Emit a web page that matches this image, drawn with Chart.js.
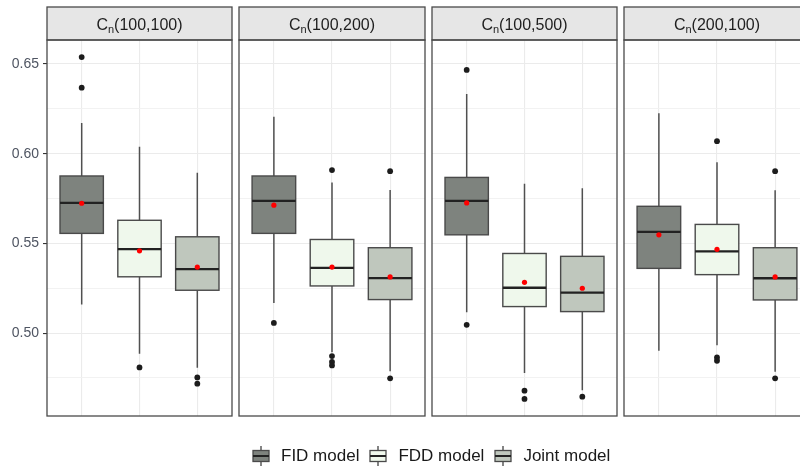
<!DOCTYPE html>
<html>
<head>
<meta charset="utf-8">
<script src="https://cdn.jsdelivr.net/npm/chart.js@4.4.1/dist/chart.umd.min.js"></script>
<style>
  html, body { margin: 0; padding: 0; background: #ffffff; }
  body { width: 800px; height: 470px; overflow: hidden; position: relative;
         font-family: "Liberation Sans", Arial, sans-serif; }
  .panel { position: absolute; top: 0; height: 420px; }
  #legend { position: absolute; left: 252px; top: 445px; height: 22px;
            display: flex; align-items: center; font-size: 17px; color: #1a1a1a; white-space: nowrap; }
  #legend canvas { display: block; margin-right: 11px; }
  #legend span { margin-right: 10px; }
</style>
</head>
<body>
<canvas id="p0" class="panel" width="236" height="420" style="left:0px;width:236px"></canvas>
<canvas id="p1" class="panel" width="194" height="420" style="left:235px;width:194px"></canvas>
<canvas id="p2" class="panel" width="193" height="420" style="left:428px;width:193px"></canvas>
<canvas id="p3" class="panel" width="194" height="420" style="left:620px;width:194px"></canvas>
<div id="legend"></div>
<script>
// Model groups, in drawing order within each facet
const models = ['FID model', 'FDD model', 'Joint model'];
const modelFills = ['#7e837e', '#eff8ec', '#bfc7bd'];

// Facet labels: C_n(p,q)
const facetArgs = ['(100,100)', '(100,200)', '(100,500)', '(200,100)'];

// Five-number summaries per facet, one value per model
const whiskerHigh = [
  [0.6172, 0.6039, 0.5894],
  [0.6206, 0.5839, 0.5798],
  [0.6333, 0.5833, 0.5807],
  [0.6226, 0.5952, 0.5796]
];
const q3 = [
  [0.5876, 0.5629, 0.5537],
  [0.5876, 0.5522, 0.5476],
  [0.5868, 0.5444, 0.5428],
  [0.5707, 0.5606, 0.5476]
];
const medians = [
  [0.5726, 0.5468, 0.5357],
  [0.5737, 0.5364, 0.5307],
  [0.5737, 0.5253, 0.5226],
  [0.5564, 0.5456, 0.5306]
];
const q1 = [
  [0.5556, 0.5314, 0.5239],
  [0.5556, 0.5263, 0.5187],
  [0.5548, 0.5148, 0.5120],
  [0.5361, 0.5326, 0.5185]
];
const whiskerLow = [
  [0.5159, 0.4885, 0.4807],
  [0.5168, 0.4894, 0.4787],
  [0.5117, 0.4778, 0.4681],
  [0.4902, 0.4933, 0.4785]
];
const means = [
  [0.5724, 0.5459, 0.5368],
  [0.5713, 0.5368, 0.5313],
  [0.5726, 0.5283, 0.5250],
  [0.5548, 0.5467, 0.5313]
];
const outliers = [
  [[0.6539, 0.6368], [0.4809], [0.4753, 0.4718]],
  [[0.5057], [0.5909, 0.4872, 0.4839, 0.4820], [0.5903, 0.4748]],
  [[0.6467, 0.5046], [0.4679, 0.4633], [0.4646]],
  [[], [0.6070, 0.4864, 0.4846], [0.5903, 0.4748]]
];

// Y axis: range and gridline values (majors labelled)
const yMin = 0.4538, yMax = 0.6634;
const yGridValues = [0.475, 0.50, 0.525, 0.55, 0.575, 0.60, 0.625, 0.65];

const FONT = '"Liberation Sans", Arial, sans-serif';
const isMajor = v => Math.abs(v * 20 - Math.round(v * 20)) < 1e-6;

// Boxes, whiskers and medians drawn with the chart's own scales
const boxplotPlugin = {
  id: 'boxplot',
  beforeDatasetsDraw(chart, args, opts) {
    const k = opts.facet;
    const { ctx, chartArea } = chart;
    const xs = chart.scales.x, ys = chart.scales.y;
    ctx.save();
    ctx.beginPath();
    ctx.rect(chartArea.left, chartArea.top, chartArea.right - chartArea.left, chartArea.bottom - chartArea.top);
    ctx.clip();
    models.forEach((m, i) => {
      const cx = xs.getPixelForValue(i + 1);
      const x0 = xs.getPixelForValue(i + 1 - 0.375);
      const x1 = xs.getPixelForValue(i + 1 + 0.375);
      const yHi = ys.getPixelForValue(whiskerHigh[k][i]);
      const yQ3 = ys.getPixelForValue(q3[k][i]);
      const yMed = ys.getPixelForValue(medians[k][i]);
      const yQ1 = ys.getPixelForValue(q1[k][i]);
      const yLo = ys.getPixelForValue(whiskerLow[k][i]);
      // whiskers
      ctx.strokeStyle = '#505050';
      ctx.lineWidth = 1.5;
      ctx.beginPath();
      ctx.moveTo(cx, yHi); ctx.lineTo(cx, yQ3);
      ctx.moveTo(cx, yQ1); ctx.lineTo(cx, yLo);
      ctx.stroke();
      // box
      ctx.fillStyle = modelFills[i];
      ctx.fillRect(x0, yQ3, x1 - x0, yQ1 - yQ3);
      ctx.strokeStyle = '#4a4a4a';
      ctx.lineWidth = 1.4;
      ctx.strokeRect(x0, yQ3, x1 - x0, yQ1 - yQ3);
      // median
      ctx.strokeStyle = '#222222';
      ctx.lineWidth = 2.3;
      ctx.beginPath();
      ctx.moveTo(x0, yMed); ctx.lineTo(x1, yMed);
      ctx.stroke();
    });
    ctx.restore();
  }
};

// Panel border and facet strip with subscripted title
const facetPlugin = {
  id: 'facet',
  afterDraw(chart, args, opts) {
    const { ctx, chartArea } = chart;
    const l = chartArea.left, r = chartArea.right, t = chartArea.top, b = chartArea.bottom;
    const stripTop = 7;
    ctx.save();
    ctx.fillStyle = '#e6e6e6';
    ctx.fillRect(l, stripTop, r - l, t - stripTop);
    ctx.strokeStyle = '#4a4a4a';
    ctx.lineWidth = 1.3;
    ctx.strokeRect(l, stripTop, r - l, t - stripTop);
    ctx.strokeRect(l, t, r - l, b - t);
    // title: C, subscript n, then arguments
    const big = '16px ' + FONT, small = '11px ' + FONT;
    ctx.font = big; const wC = ctx.measureText('C').width;
    const wA = ctx.measureText(opts.args).width;
    ctx.font = small; const wN = ctx.measureText('n').width;
    const total = wC + wN + wA;
    let x = (l + r) / 2 - total / 2;
    const baseY = (stripTop + t) / 2 + 6;
    ctx.fillStyle = '#1e1e1e';
    ctx.textBaseline = 'alphabetic';
    ctx.textAlign = 'left';
    ctx.font = big; ctx.fillText('C', x, baseY); x += wC;
    ctx.font = small; ctx.fillText('n', x, baseY + 3); x += wN;
    ctx.font = big; ctx.fillText(opts.args, x, baseY);
    ctx.restore();
  }
};

function makePanel(k) {
  const first = k === 0;
  const outlierPts = [];
  outliers[k].forEach((vals, i) => vals.forEach(v => outlierPts.push({ x: i + 1, y: v })));
  const meanPts = means[k].map((v, i) => ({ x: i + 1, y: v }));
  return new Chart(document.getElementById('p' + k), {
    type: 'scatter',
    data: {
      datasets: [
        { label: 'outliers', data: outlierPts, pointRadius: 2.9, pointBackgroundColor: '#1c1c1c',
          pointBorderWidth: 0, pointHoverRadius: 2.9 },
        { label: 'mean', data: meanPts, pointRadius: 2.6, pointBackgroundColor: '#ff0000',
          pointBorderWidth: 0, pointHoverRadius: 2.6 }
      ]
    },
    options: {
      responsive: false,
      animation: false,
      events: [],
      layout: { padding: { top: 40, bottom: 4, left: first ? 0 : 4, right: 4 } },
      plugins: {
        legend: { display: false },
        tooltip: { enabled: false },
        boxplot: { facet: k },
        facet: { args: facetArgs[k] }
      },
      scales: {
        x: {
          type: 'linear', min: 0.4, max: 3.6,
          afterBuildTicks: s => { s.ticks = [1, 2, 3].map(v => ({ value: v })); },
          ticks: { display: false },
          grid: { color: '#ebebeb', lineWidth: 1.1, drawTicks: false },
          border: { display: false },
          afterFit: s => { s.height = 0; s.paddingLeft = 0; s.paddingRight = 0; }
        },
        y: {
          type: 'linear', min: yMin, max: yMax,
          afterBuildTicks: s => { s.ticks = yGridValues.map(v => ({ value: v })); },
          ticks: {
            display: first,
            padding: 4,
            color: '#4f5562',
            font: { size: 14, family: FONT },
            callback: v => isMajor(v) ? v.toFixed(2) : ''
          },
          grid: {
            color: c => isMajor(c.tick.value) ? '#ebebeb' : '#f1f1f1',
            lineWidth: c => isMajor(c.tick.value) ? 1.1 : 0.9,
            drawTicks: first,
            tickLength: 4,
            tickColor: c => isMajor(c.tick.value) ? '#333333' : 'rgba(0,0,0,0)',
            tickWidth: 1.1
          },
          border: { display: false },
          afterFit: s => { s.width = first ? 47 : 0; s.paddingTop = 0; s.paddingBottom = 0; }
        }
      }
    },
    plugins: [boxplotPlugin, facetPlugin]
  });
}

facetArgs.forEach((_, k) => makePanel(k));

// Legend with boxplot keys
const legend = document.getElementById('legend');
models.forEach((m, i) => {
  const c = document.createElement('canvas');
  c.width = 18; c.height = 22;
  const g = c.getContext('2d');
  g.strokeStyle = '#505050'; g.lineWidth = 1.4;
  g.beginPath(); g.moveTo(9, 1); g.lineTo(9, 21); g.stroke();
  g.fillStyle = modelFills[i];
  g.fillRect(1, 5.5, 16, 11);
  g.strokeStyle = '#4a4a4a'; g.lineWidth = 1.3;
  g.strokeRect(1, 5.5, 16, 11);
  g.strokeStyle = '#222222'; g.lineWidth = 2;
  g.beginPath(); g.moveTo(1, 11); g.lineTo(17, 11); g.stroke();
  legend.appendChild(c);
  const s = document.createElement('span');
  s.textContent = m;
  legend.appendChild(s);
});
</script>
</body>
</html>
